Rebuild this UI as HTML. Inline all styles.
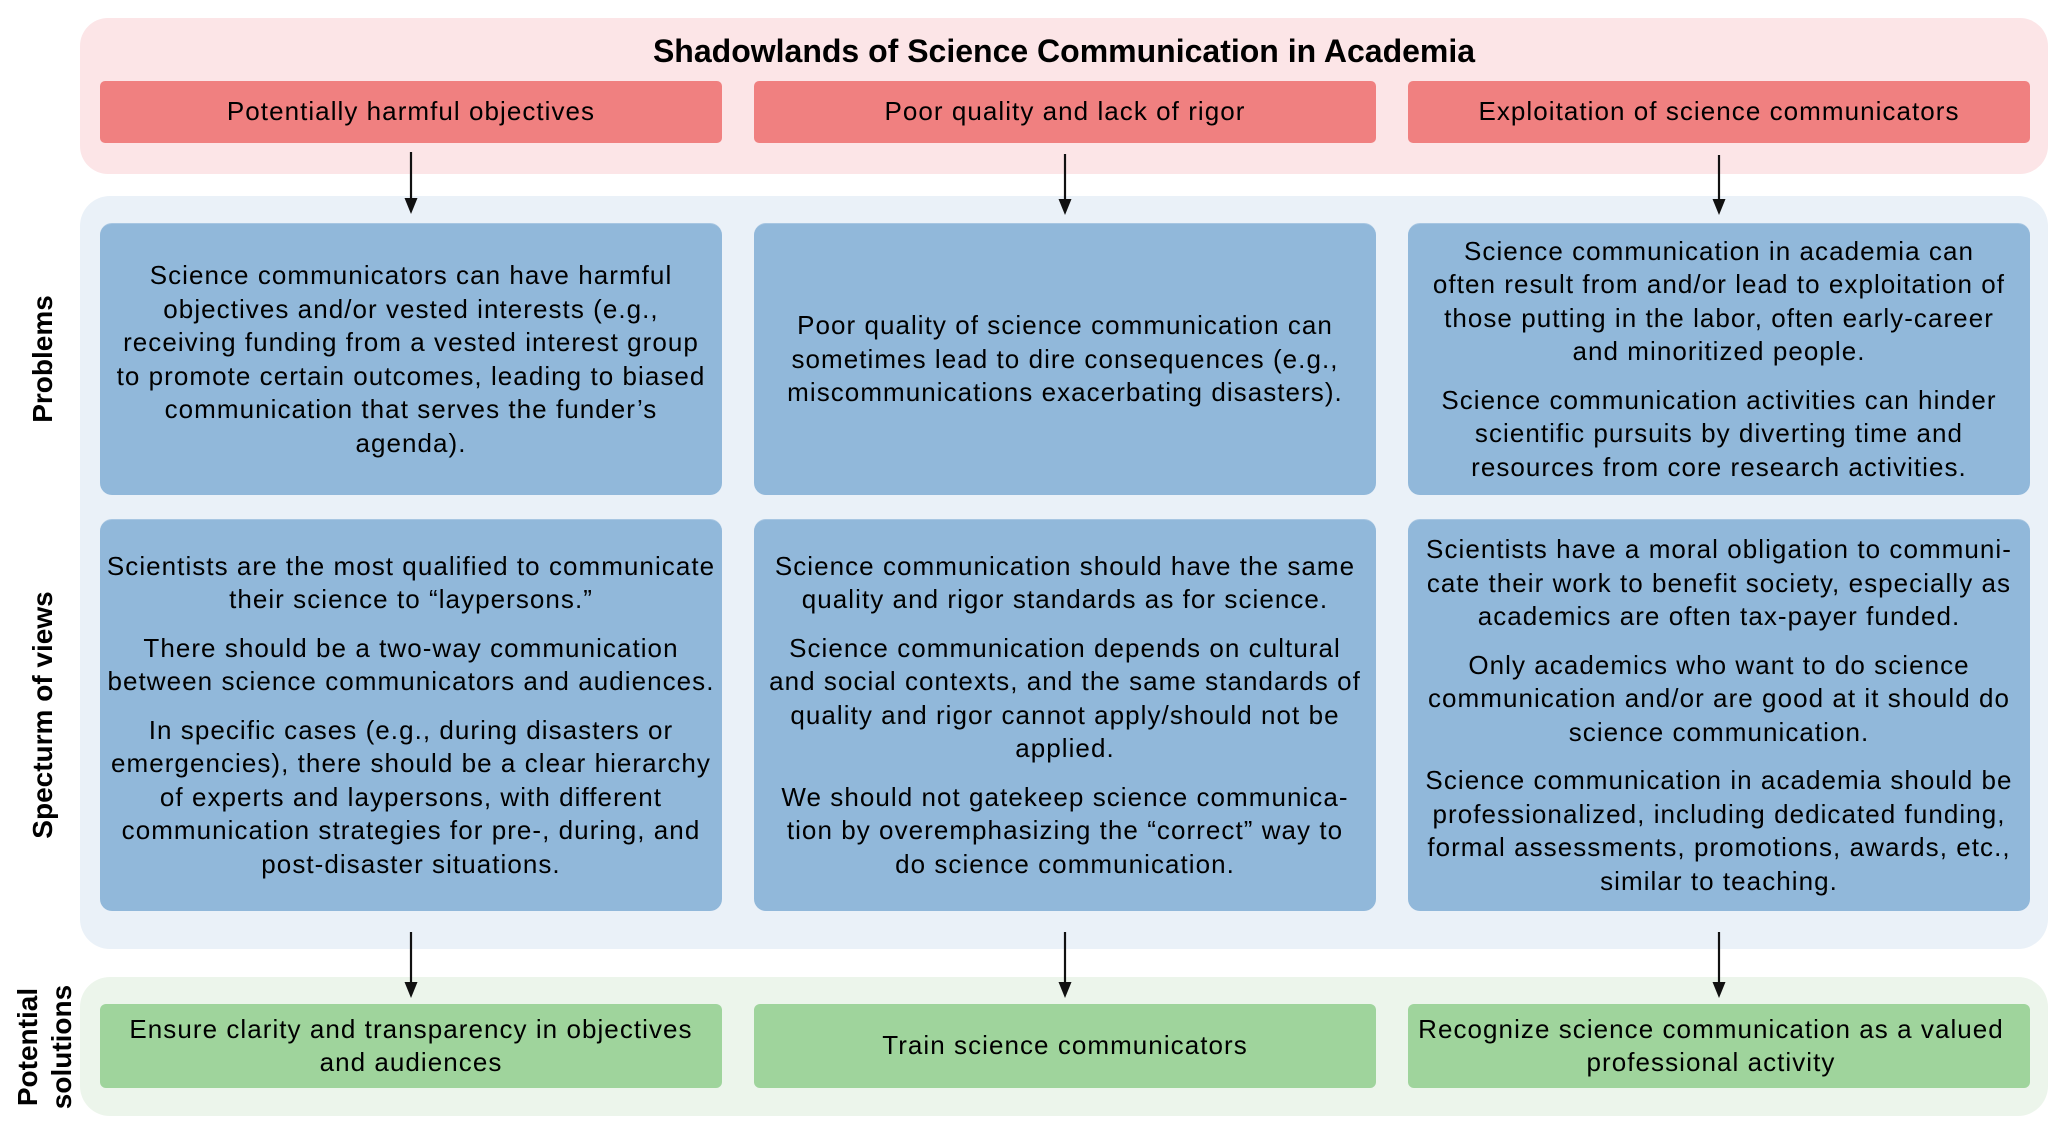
<!DOCTYPE html>
<html>
<head>
<meta charset="utf-8">
<style>
  html, body { margin:0; padding:0; }
  body { width:2067px; height:1134px; background:#ffffff; position:relative; overflow:hidden;
         font-family:"Liberation Sans", Arial, sans-serif; color:#000; }
  .abs { position:absolute; box-sizing:border-box; }
  .cont { position:absolute; }
  .pink { left:80px; top:18px; width:1968px; height:156px; background:#fce5e7; border-radius:28px; }
  .blue { left:80px; top:196px; width:1968px; height:753px; background:#eaf1f8; border-radius:30px; }
  .green { left:80px; top:977px; width:1968px; height:139px; background:#ecf5eb; border-radius:30px; }
  .title { position:absolute; left:80px; width:1968px; top:35px; height:32px; line-height:32px;
           text-align:center; font-weight:bold; font-size:32px; white-space:nowrap; }
  .box { position:absolute; width:622px; box-sizing:border-box; display:flex; flex-direction:column; justify-content:center;
         align-items:center; text-align:center; font-size:26px; line-height:33.5px; letter-spacing:1.05px;
         white-space:nowrap; }
  .red { top:81px; height:62px; background:#f08080; border-radius:5px; }
  .bb { background:#91b8da; border-radius:12px; border-top:1px solid #a7c6e2; }
  .r1 { top:223px; height:272px; }
  .r2 { top:519px; height:392px; }
  .gb { top:1004px; height:84px; background:#9fd49c; border-radius:6px; }
  .c1 { left:100px; } .c2 { left:754px; } .c3 { left:1408px; }
  .box p { margin:0; }
  .box p + p { margin-top:15px; }
  .lab { position:absolute; font-weight:bold; font-size:28px; line-height:34px; text-align:center;
         white-space:nowrap; transform:translate(-50%,-50%) rotate(-90deg); }
</style>
</head>
<body>
  <div class="cont pink"></div>
  <div class="cont blue"></div>
  <div class="cont green"></div>

  <div class="title">Shadowlands of Science Communication in Academia</div>

  <div class="box red c1">Potentially harmful objectives</div>
  <div class="box red c2">Poor quality and lack of rigor</div>
  <div class="box red c3">Exploitation of science communicators</div>

  <div class="box bb r1 c1"><p>Science communicators can have harmful<br>objectives and/or vested interests (e.g.,<br>receiving funding from a vested interest group<br>to promote certain outcomes, leading to biased<br>communication that serves the funder’s<br>agenda).</p></div>
  <div class="box bb r1 c2"><p>Poor quality of science communication can<br>sometimes lead to dire consequences (e.g.,<br>miscommunications exacerbating disasters).</p></div>
  <div class="box bb r1 c3"><p>Science communication in academia can<br>often result from and/or lead to exploitation of<br>those putting in the labor, often early-career<br>and minoritized people.</p><p>Science communication activities can hinder<br>scientific pursuits by diverting time and<br>resources from core research activities.</p></div>

  <div class="box bb r2 c1"><p>Scientists are the most qualified to communicate<br>their science to “laypersons.”</p><p>There should be a two-way communication<br>between science communicators and audiences.</p><p>In specific cases (e.g., during disasters or<br>emergencies), there should be a clear hierarchy<br>of experts and laypersons, with different<br>communication strategies for pre-, during, and<br>post-disaster situations.</p></div>
  <div class="box bb r2 c2"><p>Science communication should have the same<br>quality and rigor standards as for science.</p><p>Science communication depends on cultural<br>and social contexts, and the same standards of<br>quality and rigor cannot apply/should not be<br>applied.</p><p>We should not gatekeep science communica-<br>tion by overemphasizing the “correct” way to<br>do science communication.</p></div>
  <div class="box bb r2 c3"><p>Scientists have a moral obligation to communi-<br>cate their work to benefit society, especially as<br>academics are often tax-payer funded.</p><p>Only academics who want to do science<br>communication and/or are good at it should do<br>science communication.</p><p>Science communication in academia should be<br>professionalized, including dedicated funding,<br>formal assessments, promotions, awards, etc.,<br>similar to teaching.</p></div>

  <div class="box gb c1"><p>Ensure clarity and transparency in objectives<br>and audiences</p></div>
  <div class="box gb c2"><p>Train science communicators</p></div>
  <div class="box gb c3" style="padding-right:16px;"><p>Recognize science communication as a valued<br>professional activity</p></div>

  <div class="lab" style="left:43px; top:359px;">Problems</div>
  <div class="lab" style="left:43px; top:715px;">Specturm of views</div>
  <div class="lab" style="left:45px; top:1047px;">Potential<br>solutions</div>

  <svg class="abs" style="left:0;top:0;" width="2067" height="1134" viewBox="0 0 2067 1134">
    <g stroke="#111" stroke-width="2.2" fill="none">
      <line x1="411" y1="152" x2="411" y2="202"/>
      <line x1="1065" y1="154" x2="1065" y2="203"/>
      <line x1="1719" y1="155" x2="1719" y2="204"/>
      <line x1="411" y1="932" x2="411" y2="986"/>
      <line x1="1065" y1="932" x2="1065" y2="986"/>
      <line x1="1719" y1="932" x2="1719" y2="986"/>
    </g>
    <g fill="#111">
      <polygon points="404.5,198 417.5,198 411,214"/>
      <polygon points="1058.5,199 1071.5,199 1065,215"/>
      <polygon points="1712.5,199 1725.5,199 1719,215"/>
      <polygon points="404.5,982 417.5,982 411,998"/>
      <polygon points="1058.5,982 1071.5,982 1065,998"/>
      <polygon points="1712.5,982 1725.5,982 1719,998"/>
    </g>
  </svg>
</body>
</html>
